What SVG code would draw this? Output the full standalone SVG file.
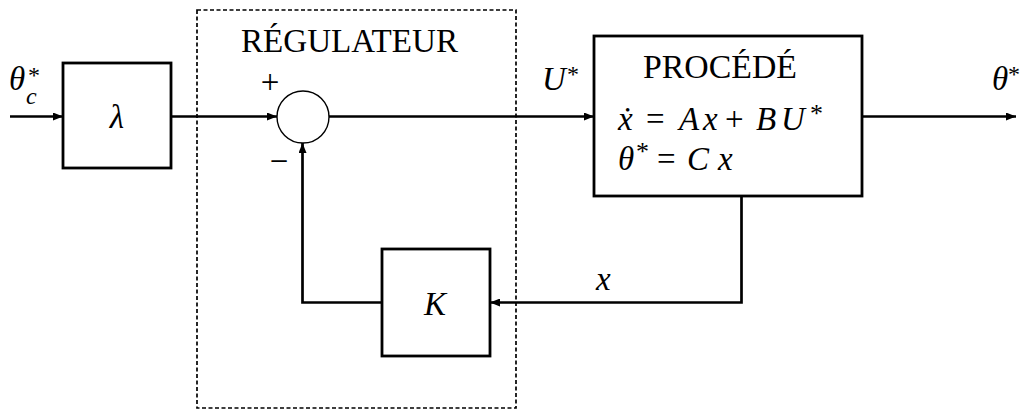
<svg xmlns="http://www.w3.org/2000/svg" width="1023" height="409" viewBox="0 0 1023 409">
<style>
.box{fill:#fff;stroke:#000;stroke-width:2.8}
.ln{fill:none;stroke:#000;stroke-width:2.7}
.rm{font-family:'Liberation Serif','Times New Roman',serif;font-size:33px;fill:#000}
.it{font-family:'Liberation Serif','Times New Roman',serif;font-style:italic;font-size:33px;fill:#000}
.n{font-style:normal}
.s{font-style:normal;font-size:26px}
.ss{font-style:normal;font-size:24px}
.sub{font-size:24px}
</style>
<defs>
<marker id="ah" viewBox="0 0 10 8" refX="10" refY="4" markerWidth="10" markerHeight="8" markerUnits="userSpaceOnUse" orient="auto">
<path d="M0,0 L10,4 L0,8 z" fill="#000"/>
</marker>
</defs>
<rect width="1023" height="409" fill="#fff"/>
<g id="regulateur">
<rect x="197" y="10" width="319" height="398" fill="none" stroke="#000" stroke-width="1.7" stroke-dasharray="4,2.5"/>
<text class="rm" x="241" y="52" textLength="217" lengthAdjust="spacingAndGlyphs">RÉGULATEUR</text>
</g>
<g id="connectors">
<line class="ln" x1="10" y1="116.5" x2="63" y2="116.5" marker-end="url(#ah)"/>
<line class="ln" x1="171" y1="116.5" x2="277" y2="116.5" marker-end="url(#ah)"/>
<line class="ln" x1="329" y1="116.5" x2="594" y2="116.5" marker-end="url(#ah)"/>
<line class="ln" x1="862" y1="116.5" x2="1016" y2="116.5" marker-end="url(#ah)"/>
<polyline class="ln" points="741.5,196 741.5,302.5 490,302.5" marker-end="url(#ah)"/>
<polyline class="ln" points="382,302.5 302.5,302.5 302.5,143" marker-end="url(#ah)"/>
</g>
<g id="input-label">
<text class="it" x="9" y="90">θ<tspan class="ss" x="28" y="83">*</tspan><tspan class="sub" x="26" y="104">c</tspan></text>
</g>
<g id="lambda">
<rect class="box" x="63" y="63" width="108" height="105"/>
<text class="it" x="117" y="128" text-anchor="middle">λ</text>
</g>
<g id="sum">
<circle cx="303" cy="117" r="26" fill="#fff" stroke="#000" stroke-width="1.4"/>
<text class="rm" x="270" y="93" text-anchor="middle">+</text>
<text class="rm" x="279" y="172" text-anchor="middle">−</text>
</g>
<g id="u-label">
<text class="it" x="542" y="90">U<tspan class="ss" x="567" y="82">*</tspan></text>
</g>
<g id="procede">
<rect class="box" x="594" y="36" width="268" height="160"/>
<text class="rm" x="643" y="78" textLength="154" lengthAdjust="spacingAndGlyphs">PROCÉDÉ</text>
<text class="it" x="618" y="130">ẋ<tspan class="n" x="646">=</tspan><tspan x="679">A</tspan><tspan x="703">x</tspan><tspan class="n" x="725">+</tspan><tspan x="756">B</tspan><tspan x="781">U</tspan><tspan class="s" x="810" y="122">*</tspan></text>
<text class="it" x="618" y="170">θ<tspan class="s" x="636" y="160">*</tspan><tspan class="n" x="657" y="170">=</tspan><tspan x="687">C</tspan><tspan x="718">x</tspan></text>
</g>
<g id="output-label">
<text class="it" x="992" y="90">θ<tspan class="ss" x="1008" y="82">*</tspan></text>
</g>
<g id="K">
<rect class="box" x="382" y="249" width="108" height="107"/>
<text class="it" x="435" y="315" text-anchor="middle">K</text>
</g>
<g id="x-label">
<text class="it" x="596" y="290">x</text>
</g>
</svg>
